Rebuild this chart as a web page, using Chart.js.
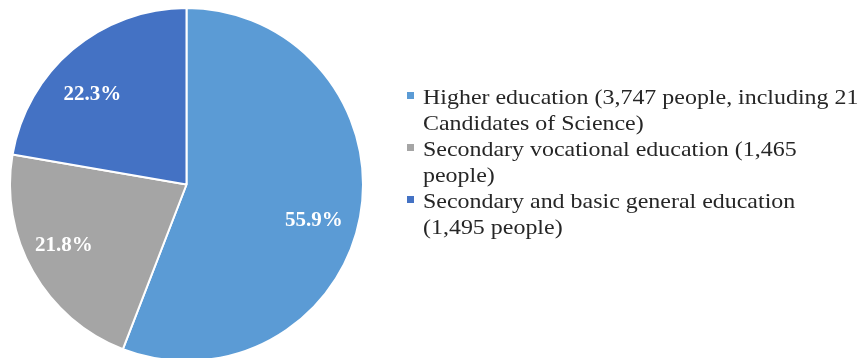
<!DOCTYPE html>
<html>
<head>
<meta charset="utf-8">
<script src="https://cdn.jsdelivr.net/npm/chart.js@4"></script>
<style>
  html, body { margin: 0; padding: 0; background: #fff; overflow: hidden; }
  #wrap { position: relative; width: 862px; height: 380px; }
</style>
</head>
<body>
<div id="wrap"><canvas id="eduChart"></canvas></div>
<script>
// Education levels, each label split into the lines shown in the legend
const categories = [
  ['Higher education (3,747 people, including 21', 'Candidates of Science)'],
  ['Secondary vocational education (1,465', 'people)'],
  ['Secondary and basic general education', '(1,495 people)']
];
const people = [3747, 1465, 1495];
const sliceColors = ['#5B9BD5', '#A5A5A5', '#4472C4'];

const serif = '"Liberation Serif", "Times New Roman", serif';

// Percent labels inside the slices
const percentLabels = {
  id: 'percentLabels',
  afterDatasetsDraw(chart, args, opts) {
    const ctx = chart.ctx;
    const meta = chart.getDatasetMeta(0);
    const values = chart.data.datasets[0].data;
    const total = values.reduce((a, b) => a + b, 0);
    ctx.save();
    ctx.fillStyle = '#fff';
    ctx.font = 'bold 21px ' + serif;
    ctx.textAlign = 'center';
    ctx.textBaseline = 'middle';
    meta.data.forEach((arc, i) => {
      const mid = (arc.startAngle + arc.endAngle) / 2;
      const r = arc.outerRadius * 0.74;
      const nudge = opts.nudge[i] || [0, 0];
      const x = arc.x + Math.cos(mid) * r + nudge[0];
      const y = arc.y + Math.sin(mid) * r + nudge[1];
      ctx.fillText((values[i] / total * 100).toFixed(1) + '%', x, y);
    });
    ctx.restore();
  }
};

// Legend on the right with wrapped lines; text is drawn slightly wide
const sideLegend = {
  id: 'sideLegend',
  afterDraw(chart) {
    const ctx = chart.ctx;
    const colors = chart.data.datasets[0].backgroundColor;
    const left = 423, lineH = 26, stretch = 1.14;
    let y = 104;
    ctx.save();
    ctx.font = '21px ' + serif;
    ctx.textBaseline = 'alphabetic';
    chart.data.labels.forEach((lines, i) => {
      ctx.fillStyle = colors[i];
      ctx.fillRect(407, y - 12, 7, 7);
      ctx.fillStyle = '#262626';
      lines.forEach((line, j) => {
        ctx.save();
        ctx.translate(left, y + j * lineH);
        ctx.scale(stretch, 1);
        ctx.fillText(line, 0, 0);
        ctx.restore();
      });
      y += lines.length * lineH;
    });
    ctx.restore();
  }
};

new Chart(document.getElementById('eduChart'), {
  type: 'pie',
  data: {
    labels: categories,
    datasets: [{
      data: people,
      backgroundColor: sliceColors,
      borderColor: '#fff',
      borderWidth: 2
    }]
  },
  options: {
    responsive: true,
    maintainAspectRatio: false,
    animation: false,
    layout: { padding: { left: 9, top: 7, right: 498, bottom: 18 } },
    plugins: {
      legend: { display: false },
      tooltip: { enabled: false },
      percentLabels: { nudge: [[-1, 12], [-9, -3], [-10, 10]] }
    }
  },
  plugins: [percentLabels, sideLegend]
});
</script>
</body>
</html>
